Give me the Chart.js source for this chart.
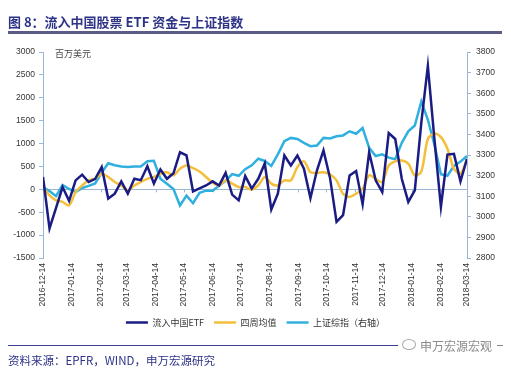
<!DOCTYPE html>
<html>
<head>
<meta charset="utf-8">
<script src="https://cdn.jsdelivr.net/npm/chart.js@4.4.1/dist/chart.umd.min.js"></script>
<style>
  html, body { margin: 0; padding: 0; background: #ffffff; }
  #wrap { position: relative; width: 511px; height: 369px; overflow: hidden; background: #fff; }
  #c { position: absolute; left: 0; top: 0; }
  .abs { position: absolute; white-space: nowrap; }
  #title { left: 8px; top: 12px; font: bold 13px "Noto Sans CJK SC", "Liberation Sans", sans-serif; color: #2E3388; }
  #rule1 { left: 8px; top: 31px; width: 494px; height: 3px; background: #5A5C86; }
  #unit { left: 55px; top: 47px; font: 9px "Noto Sans CJK SC", sans-serif; color: #444; }
  #rule2 { left: 8px; top: 345px; width: 390px; height: 1px; background: #3C3F8F; }
  #rule3 { left: 497px; top: 345px; width: 6px; height: 1px; background: #888; }
  #source { left: 8px; top: 352px; font: 11.5px "Noto Sans CJK SC", sans-serif; color: #2E3388; }
  #wm { left: 420px; top: 337px; font: 12px "Noto Sans CJK SC", sans-serif; color: #8a8a8a; }
  #icon { left: 402px; top: 339px; width: 12px; height: 9px; border: 1px solid #aaa; border-radius: 50%; }
</style>
</head>
<body>
<div id="wrap">
  <canvas id="c" width="511" height="369"></canvas>
  <div class="abs" id="title">图 8：流入中国股票 ETF 资金与上证指数</div>
  <div class="abs" id="rule1"></div>
  <div class="abs" id="unit">百万美元</div>
  <div class="abs" id="rule2"></div>
  <div class="abs" id="icon"></div>
  <div class="abs" id="wm">申万宏源宏观</div>
  <div class="abs" id="rule3"></div>
  <div class="abs" id="source">资料来源：EPFR，WIND，申万宏源研究</div>
</div>
<script>
// ---- data ----
const weekDates = [
  "2016-12-14","2016-12-21","2016-12-28","2017-01-04","2017-01-11","2017-01-18","2017-01-25",
  "2017-02-01","2017-02-08","2017-02-15","2017-02-22","2017-03-01","2017-03-08","2017-03-15",
  "2017-03-22","2017-03-29","2017-04-05","2017-04-12","2017-04-19","2017-04-26","2017-05-03",
  "2017-05-10","2017-05-17","2017-05-24","2017-05-31","2017-06-07","2017-06-14","2017-06-21",
  "2017-06-28","2017-07-05","2017-07-12","2017-07-19","2017-07-26","2017-08-02","2017-08-09",
  "2017-08-16","2017-08-23","2017-08-30","2017-09-06","2017-09-13","2017-09-20","2017-09-27",
  "2017-10-04","2017-10-11","2017-10-18","2017-10-25","2017-11-01","2017-11-08","2017-11-15",
  "2017-11-22","2017-11-29","2017-12-06","2017-12-13","2017-12-20","2017-12-27","2018-01-03",
  "2018-01-10","2018-01-17","2018-01-24","2018-01-31","2018-02-07","2018-02-14","2018-02-21",
  "2018-02-28","2018-03-07","2018-03-14"
];
const etfFlow = [
  270, -855, -405, 50, -250, 195, 320, 160, 230, 485, -200, -95, 175, -95, 230, 200, 505, 125,
  435, 230, 350, 810, 740, -45, 20, 85, 175, 85, 360, -115, -240, 290, 15, 230, 565, -440, -95,
  740, 520, 740, 450, -190, 415, 850, 250, -710, -565, 305, 400, -325, 810, 195, -60, 1230, 1100,
  230, -275, -20, 1465, 2695, 1100, -385, 760, 775, 175, 665
];
const fourWeekAvg = [
  50, -130, -240, -275, -350, -60, 85, 195, 230, 340, 270, 160, 85, -20, 85, 160, 230, 270, 340,
  375, 305, 450, 520, 465, 390, 270, 145, 85, 195, 125, 50, 50, -5, 85, 270, 125, 85, 195, 195,
  485, 610, 375, 360, 375, 330, 195, -95, -165, -95, 15, 305, 230, 160, 520, 610, 630, 560, 305,
  390, 1100, 1220, 1140, 885, 450, 340, 665
];
const shIndex = [
  3143, 3125, 3100, 3154, 3135, 3120, 3140, 3150, 3162, 3215, 3260, 3250, 3244, 3242, 3244, 3244,
  3270, 3272, 3185, 3160, 3135, 3055, 3103, 3066, 3116, 3127, 3127, 3151, 3175, 3207, 3199, 3231,
  3250, 3282, 3271, 3247, 3303, 3367, 3383, 3378, 3359, 3343, 3346, 3383, 3380, 3391, 3395, 3415,
  3403, 3431, 3335, 3295, 3303, 3287, 3279, 3359, 3415, 3443, 3560, 3471, 3351, 3207, 3199, 3247,
  3268, 3295
];
const tickLabels = [
  "2016-12-14","2017-01-14","2017-02-14","2017-03-14","2017-04-14","2017-05-14","2017-06-14",
  "2017-07-14","2017-08-14","2017-09-14","2017-10-14","2017-11-14","2017-12-14","2018-01-14",
  "2018-02-14","2018-03-14"
];
const seriesNames = ["流入中国ETF", "四周均值", "上证综指（右轴）"];

// ---- helpers ----
const DAY = 86400000;
const t0 = Date.parse(tickLabels[0] + "T00:00:00Z");
const dayOf = s => Math.round((Date.parse(s + "T00:00:00Z") - t0) / DAY);
const tickDays = tickLabels.map(dayOf);
const toPts = arr => weekDates.map((d, i) => ({ x: dayOf(d), y: arr[i] }));

const axisColor = "#9BB7D4";
const textColor = "#333333";
const baseFont = "'Liberation Sans', Arial, 'Noto Sans CJK SC', sans-serif";
Chart.defaults.font.family = baseFont;
Chart.defaults.font.size = 8.5;
Chart.defaults.color = textColor;

const zeroTicks = {
  id: "zeroTicks",
  beforeDatasetsDraw(chart) {
    const xs = chart.scales.x, ys = chart.scales.y;
    const y0 = ys.getPixelForValue(0);
    const ctx = chart.ctx;
    ctx.save();
    ctx.strokeStyle = axisColor;
    ctx.lineWidth = 1;
    ctx.beginPath();
    tickDays.forEach(d => {
      const px = Math.round(xs.getPixelForValue(d)) + 0.5;
      ctx.moveTo(px, y0);
      ctx.lineTo(px, y0 + 3);
    });
    ctx.stroke();
    ctx.restore();
  }
};

new Chart(document.getElementById("c"), {
  type: "line",
  data: {
    datasets: [
      { label: seriesNames[0], data: toPts(etfFlow), yAxisID: "y",
        borderColor: "#1A1C84", backgroundColor: "#1A1C84", borderWidth: 2.5,
        pointRadius: 0, tension: 0 },
      { label: seriesNames[1], data: toPts(fourWeekAvg), yAxisID: "y",
        borderColor: "#F4BF3A", backgroundColor: "#F4BF3A", borderWidth: 2.5,
        pointRadius: 0, tension: 0.3 },
      { label: seriesNames[2], data: toPts(shIndex), yAxisID: "y1",
        borderColor: "#2FB0DF", backgroundColor: "#2FB0DF", borderWidth: 2.5,
        pointRadius: 0, tension: 0 }
    ]
  },
  options: {
    responsive: false,
    animation: false,
    layout: { padding: { top: 52, left: 0, right: 0, bottom: 32 } },
    plugins: {
      tooltip: { enabled: false },
      legend: {
        position: "bottom",
        labels: {
          usePointStyle: true,
          pointStyle: "line",
          pointStyleWidth: 22,
          padding: 10,
          color: textColor,
          font: { size: 9, family: "'Noto Sans CJK SC', 'Liberation Sans', sans-serif" }
        }
      }
    },
    scales: {
      x: {
        type: "linear",
        min: 0,
        max: tickDays[tickDays.length - 1],
        afterBuildTicks: s => { s.ticks = tickDays.map(v => ({ value: v })); },
        afterFit: s => { s.height = 50; },
        grid: { display: false, drawTicks: false },
        border: { display: false },
        ticks: {
          autoSkip: false,
          minRotation: 90,
          maxRotation: 90,
          padding: 5,
          font: { size: 8.5 },
          callback: v => { const k = tickDays.indexOf(v); return k >= 0 ? tickLabels[k] : ""; }
        }
      },
      y: {
        position: "left",
        min: -1500, max: 3000,
        afterFit: s => { s.width = 43; },
        border: { color: axisColor, width: 1 },
        grid: {
          drawOnChartArea: true,
          color: c => (c.tick && c.tick.value === 0) ? axisColor : "rgba(0,0,0,0)",
          tickColor: axisColor,
          tickLength: 4
        },
        ticks: { stepSize: 500, padding: 4, font: { size: 8.5 }, callback: v => String(v) }
      },
      y1: {
        position: "right",
        min: 2800, max: 3800,
        afterFit: s => { s.width = 44; },
        border: { color: axisColor, width: 1 },
        grid: { drawOnChartArea: false, tickColor: axisColor, tickLength: 4 },
        ticks: { stepSize: 100, padding: 5, font: { size: 8.5 }, callback: v => String(v) }
      }
    }
  },
  plugins: [zeroTicks]
});
</script>
</body>
</html>
